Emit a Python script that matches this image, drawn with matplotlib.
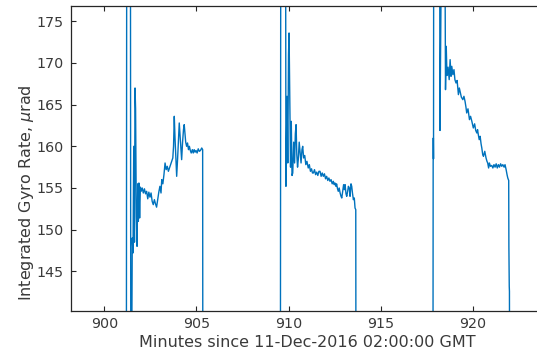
import matplotlib
matplotlib.use("Agg")
import matplotlib.pyplot as plt

# minutes since 11-Dec-2016 02:00:00 GMT, integrated gyro rate (urad)
# values of 130 / 190 are off-scale (below / above the plotted window)
minutes = [
    898.50, 901.20, 901.22, 901.42, 901.44, 901.48, 901.52, 901.56, 901.60,
    901.64, 901.67, 901.70, 901.74, 901.78, 901.82, 901.85, 901.88, 901.92,
    901.96, 902.00, 902.06, 902.12, 902.18, 902.24, 902.30, 902.36, 902.42,
    902.48, 902.54, 902.60, 902.66, 902.72, 902.78, 902.84, 902.90, 902.96,
    903.02, 903.08, 903.12, 903.18, 903.24, 903.30, 903.36, 903.42, 903.48,
    903.54, 903.60, 903.66, 903.72, 903.76, 903.80, 903.84, 903.88, 903.93,
    903.98, 904.03, 904.07, 904.11, 904.16, 904.20, 904.25, 904.30, 904.34,
    904.38, 904.42, 904.47, 904.52, 904.57, 904.62, 904.67, 904.72, 904.78,
    904.83, 904.88, 904.93, 904.98, 905.04, 905.10, 905.16, 905.22, 905.29,
    905.34, 905.35,
    909.56, 909.58, 909.84, 909.86, 909.92, 909.96, 910.00, 910.03, 910.07,
    910.11, 910.15, 910.19, 910.23, 910.28, 910.33, 910.37, 910.41, 910.45,
    910.49, 910.53, 910.58, 910.63, 910.68, 910.73, 910.77, 910.82, 910.88,
    910.94, 911.00, 911.07, 911.13, 911.19, 911.25, 911.30, 911.35, 911.41,
    911.47, 911.53, 911.59, 911.65, 911.71, 911.77, 911.83, 911.89, 911.95,
    912.01, 912.07, 912.13, 912.19, 912.25, 912.31, 912.37, 912.43, 912.48,
    912.52, 912.57, 912.61, 912.66, 912.70, 912.75, 912.80, 912.85, 912.89,
    912.94, 912.99, 913.03, 913.07, 913.12, 913.16, 913.21, 913.25, 913.30,
    913.34, 913.39, 913.43, 913.47, 913.52, 913.57, 913.61, 913.65, 913.66,
    917.84, 917.85, 917.86, 917.87, 917.88, 918.20, 918.22, 918.27, 918.30,
    918.48, 918.52, 918.56, 918.60, 918.66, 918.72, 918.77, 918.82, 918.86,
    918.92, 918.98, 919.03, 919.09, 919.15, 919.22, 919.27, 919.31, 919.38,
    919.46, 919.52, 919.58, 919.63, 919.67, 919.74, 919.82, 919.88, 919.95,
    920.03, 920.10, 920.16, 920.22, 920.26, 920.30, 920.35, 920.40, 920.45,
    920.49, 920.54, 920.58, 920.65, 920.72, 920.77, 920.81, 920.86, 920.90,
    920.96, 921.03, 921.09, 921.15, 921.21, 921.27, 921.33, 921.39, 921.45,
    921.51, 921.57, 921.63, 921.70, 921.75, 921.81, 921.86, 921.90, 921.95,
    921.96, 921.98, 921.99, 922.00, 923.80,
]
rates = [
    130, 130, 190, 190, 130, 130, 149.0, 147.2, 160.0,
    148.5, 167.0, 164.5, 151.5, 148.0, 155.5, 151.0, 155.6, 151.4,
    155.1, 154.6, 155.0, 154.4, 154.9, 154.3, 154.6, 153.7, 154.5,
    153.9, 154.4, 153.4, 153.0, 153.6, 153.1, 152.7, 153.6, 154.5,
    155.2, 154.4, 156.0, 155.5, 156.6, 158.0, 157.2, 157.6, 157.0,
    157.4, 157.8, 158.2, 158.6, 160.0, 163.6, 161.0, 159.0, 156.4,
    158.5, 161.0, 162.8, 161.5, 159.8, 158.4, 160.5, 162.0, 162.6,
    161.5, 160.5, 160.0, 160.4, 159.6, 160.0, 159.5, 159.2, 159.6,
    159.2, 159.6, 159.3, 159.5, 159.2, 159.7, 159.4, 159.5, 159.8,
    159.6, 130,
    130, 190, 190, 155.2, 166.0, 158.0, 171.0, 173.6, 165.0,
    157.5, 163.0, 156.5, 156.8, 160.5, 158.0, 161.5, 162.6, 159.0,
    157.5, 158.4, 160.5, 159.2, 158.0, 159.6, 160.0, 158.6, 158.9,
    157.8, 158.2, 157.4, 157.8, 157.0, 157.3, 156.8, 156.8, 157.2,
    156.6, 156.9, 156.5, 157.0, 157.0, 156.4, 156.8, 156.4, 156.7,
    156.1, 156.4, 155.9, 156.2, 155.8, 156.0, 155.5, 155.8, 155.4,
    155.6, 155.2, 155.5, 154.9, 154.6, 155.0, 154.4, 154.0, 153.8,
    154.6, 155.4, 154.8, 155.4, 154.3, 154.0, 154.6, 155.2, 155.0,
    154.0, 155.5, 155.2, 154.4, 153.6, 153.8, 152.6, 152.4, 130,
    130, 158.0, 161.0, 158.5, 190, 190, 161.9, 175.0, 190,
    190, 166.8, 172.0, 168.5, 169.5, 168.0, 170.4, 168.4, 169.6,
    168.6, 169.2, 168.0, 167.6, 167.9, 166.2, 167.0, 166.6, 165.9,
    165.6, 166.0, 165.4, 164.7, 164.0, 164.5, 163.2, 163.6, 163.0,
    162.2, 162.7, 161.9, 161.6, 162.0, 161.4, 160.8, 161.2, 160.3,
    159.8, 159.0, 158.8, 159.4, 158.6, 158.2, 158.0, 157.4, 158.0,
    157.6, 157.7, 157.4, 157.8, 157.5, 157.9, 157.4, 157.8, 157.5,
    157.9, 157.6, 157.8, 157.5, 157.8, 157.2, 156.6, 156.2, 155.9,
    148.0, 143.2, 142.6, 130, 130,
]

x_ticks = [900, 905, 910, 915, 920]
y_ticks = [145, 150, 155, 160, 165, 170, 175]

plt.rcParams["font.family"] = ["DejaVu Sans"]
axis_color = "#262626"
text_color = "#3a3a3a"

fig = plt.figure(figsize=(5.37, 3.58), dpi=100)
# axes box runs a little past the right edge of the picture (cropped like the reference)
ax = fig.add_axes([0.1317, 0.1299, 0.8808, 0.8525])

ax.plot(minutes, rates, color="#0072BD", linewidth=1.0)

ax.set_xlim(898.18, 923.85)
ax.set_ylim(140.18, 176.8)
ax.set_xticks(x_ticks)
ax.set_yticks(y_ticks)

ax.tick_params(direction="in", length=3.5, width=0.8, colors=axis_color,
               labelcolor=text_color, labelsize=10.3, top=True, right=False)
ax.tick_params(axis="x", pad=4)
ax.tick_params(axis="y", pad=5)
for side in ["left", "bottom", "top"]:
    ax.spines[side].set_color(axis_color)
    ax.spines[side].set_linewidth(0.9)
ax.spines["right"].set_visible(False)

ax.set_xlabel("Minutes since 11-Dec-2016 02:00:00 GMT", fontsize=11.5,
              color=text_color, labelpad=2.5)
ax.set_ylabel("Integrated Gyro Rate, $\\mu$rad", fontsize=11.5, color=text_color)
ax.yaxis.set_label_coords(-0.074, 0.39)

fig.savefig("out.png", dpi=100)
